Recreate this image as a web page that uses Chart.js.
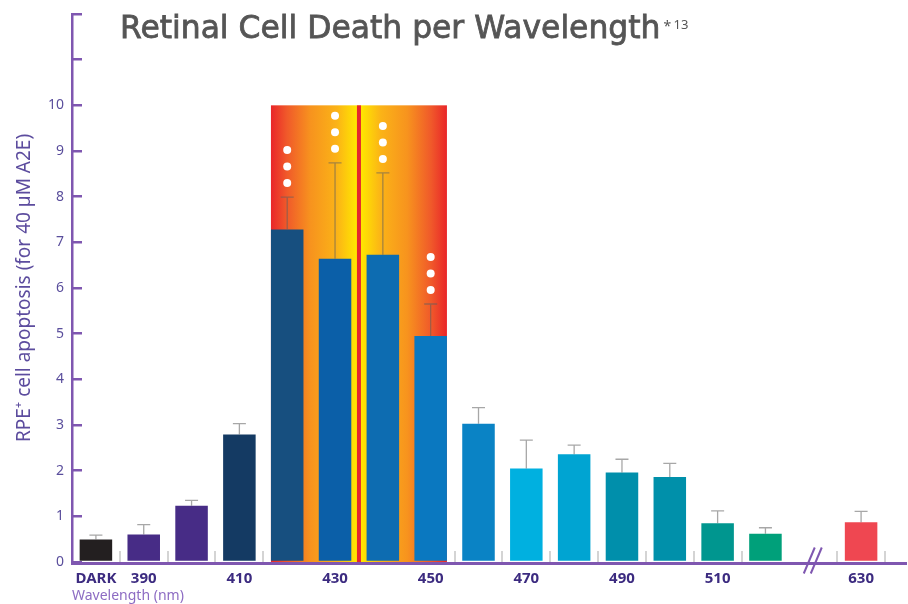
<!DOCTYPE html>
<html>
<head>
<meta charset="utf-8">
<script src="https://cdn.jsdelivr.net/npm/chart.js@4.4.0/dist/chart.umd.min.js"></script>
<style>
  html, body { margin: 0; padding: 0; background: #fff; }
</style>
</head>
<body>
<canvas id="apoptose" width="908" height="604"></canvas>
<script>
// dados
var categorias = ['DARK', '390', '400', '410', '420', '430', '440', '450', '460', '470', '480', '490', '500', '510', '520', '', '630'];
var valores    = [0.49, 0.6, 1.23, 2.79, 7.28, 6.64, 6.73, 4.95, 3.03, 2.05, 2.36, 1.96, 1.86, 0.85, 0.62, null, 0.87];
var erros      = [0.1, 0.22, 0.12, 0.24, 0.71, 2.1, 1.79, 0.7, 0.35, 0.62, 0.2, 0.29, 0.3, 0.27, 0.13, null, 0.24];
var pontosSignif = [0, 0, 0, 0, 3, 3, 3, 3, 0, 0, 0, 0, 0, 0, 0, 0, 0];
var rotulosX   = ['DARK', '390', '410', '430', '450', '470', '490', '510', '630'];
var rotulosY   = [0, 1, 2, 3, 4, 5, 6, 7, 8, 9, 10];
var faixaAzul  = ['420', '450'];   // faixa de luz azul-violeta destacada
var faixaTopo  = 10;
var quebraEixo = '';               // categoria vazia = quebra do eixo

var cores = ['#231f20', '#472c86', '#472c86', '#143a63', '#174f7f', '#0b5fa8', '#0d6cb1', '#0a78c0',
             '#0a83c5', '#00b0e0', '#00a4d2', '#008fab', '#0090aa', '#00968f', '#00a07a', '#ffffff', '#ef4751'];

var titulo = 'Retinal Cell Death per Wavelength';
var roxo = '#7f57b0';

var pluginFundo = {
    id: 'fundoFaixa',
    beforeDatasetsDraw: function (chart) {
        var ctx = chart.ctx;
        var xs = chart.scales.x, ys = chart.scales.y;
        var meta = chart.getDatasetMeta(0);
        var i0 = categorias.indexOf(faixaAzul[0]);
        var i1 = categorias.indexOf(faixaAzul[1]);
        var x0 = meta.data[i0].x - meta.data[i0].width / 2;
        var x1 = meta.data[i1].x + meta.data[i1].width / 2;
        var yt = ys.getPixelForValue(faixaTopo);
        var yb = ys.getPixelForValue(0);
        // linha central entre 430 e 440
        var xm = (xs.getPixelForValue(5) + xs.getPixelForValue(6)) / 2;
        var m = (xm - x0) / (x1 - x0);

        var g = ctx.createLinearGradient(x0, 0, x1, 0);
        g.addColorStop(0, '#e92629');
        g.addColorStop(m * 0.18, '#f0592a');
        g.addColorStop(m * 0.45, '#f7931e');
        g.addColorStop(m * 0.75, '#fbb317');
        g.addColorStop(m * 0.97, '#ffe600');
        g.addColorStop(m + (1 - m) * 0.03, '#ffe600');
        g.addColorStop(m + (1 - m) * 0.25, '#fbb317');
        g.addColorStop(m + (1 - m) * 0.55, '#f7931e');
        g.addColorStop(m + (1 - m) * 0.82, '#f0592a');
        g.addColorStop(1, '#e92629');

        ctx.save();
        ctx.fillStyle = g;
        ctx.fillRect(x0, yt, x1 - x0, yb - yt);
        ctx.fillStyle = '#e5262e';
        ctx.fillRect(xm - 2, yt, 4, yb - yt);
        ctx.restore();
    }
};

var pluginErros = {
    id: 'barrasErro',
    afterDatasetsDraw: function (chart) {
        var ctx = chart.ctx;
        var ys = chart.scales.y;
        var meta = chart.getDatasetMeta(0);
        ctx.save();
        meta.data.forEach(function (bar, i) {
            if (valores[i] === null) return;
            var yTopo = ys.getPixelForValue(valores[i] + erros[i]);
            ctx.strokeStyle = 'rgba(95,95,95,0.55)';
            ctx.lineWidth = 1.3;
            ctx.beginPath();
            ctx.moveTo(bar.x, bar.y);
            ctx.lineTo(bar.x, yTopo);
            ctx.moveTo(bar.x - 6.5, yTopo);
            ctx.lineTo(bar.x + 6.5, yTopo);
            ctx.stroke();

            ctx.fillStyle = '#ffffff';
            for (var k = 0; k < pontosSignif[i]; k++) {
                ctx.beginPath();
                ctx.arc(bar.x, yTopo - 14 - k * 16.5, 4, 0, Math.PI * 2);
                ctx.fill();
            }
        });
        ctx.restore();
    }
};

var pluginEixo = {
    id: 'eixoBase',
    afterDraw: function (chart) {
        var ctx = chart.ctx;
        var xs = chart.scales.x, ys = chart.scales.y;
        var y0 = ys.getPixelForValue(0) + 1.5;
        ctx.save();
        // linha de base
        ctx.strokeStyle = roxo;
        ctx.lineWidth = 3;
        ctx.beginPath();
        ctx.moveTo(chart.chartArea.left - 1, y0);
        ctx.lineTo(chart.width - 1, y0);
        ctx.stroke();

        // quebra do eixo //
        var xq = xs.getPixelForValue(categorias.indexOf(quebraEixo));
        ctx.lineWidth = 2;
        [-3.5, 3.5].forEach(function (d) {
            ctx.beginPath();
            ctx.moveTo(xq + d - 6, y0 + 10);
            ctx.lineTo(xq + d + 5, y0 - 16);
            ctx.stroke();
        });

        // titulo (ajustado a largura do original)
        ctx.fillStyle = '#555555';
        ctx.strokeStyle = '#555555';
        ctx.lineWidth = 0.8;
        ctx.textBaseline = 'alphabetic';
        ctx.textAlign = 'left';
        ctx.font = '30px "DejaVu Sans"';
        var tam = 30 * 540 / ctx.measureText(titulo).width;
        ctx.font = tam.toFixed(1) + 'px "DejaVu Sans"';
        ctx.fillText(titulo, 120, 38);
        ctx.strokeText(titulo, 120, 38);
        var w = ctx.measureText(titulo).width;
        ctx.font = '14px "Noto Sans"';
        ctx.fillText('*', 120 + w + 3, 31);
        ctx.font = '13px "Noto Sans"';
        ctx.fillText('13', 120 + w + 13, 29);
        ctx.restore();
    }
};

var ctxApoptose = document.getElementById('apoptose').getContext('2d');

var dadosApoptose = {
    labels: categorias,
    datasets: [{
        label: 'RPE+ cell apoptosis',
        data: valores,
        backgroundColor: cores,
        borderWidth: 0,
        categoryPercentage: 1,
        barPercentage: 0.68
    }]
};

var opcoesApoptose = {
    responsive: false,
    animation: false,
    layout: {
        padding: { top: 14, right: 23, left: 0, bottom: 0 }
    },
    plugins: {
        legend: { display: false },
        tooltip: { enabled: false }
    },
    scales: {
        x: {
            z: 1,
            offset: true,
            border: { display: false },
            grid: {
                drawOnChartArea: false,
                tickLength: -11,
                lineWidth: 2,
                color: function (c) {
                    var l = categorias[c.index];
                    return (c.index === 0 || l === '') ? 'rgba(0,0,0,0)' : '#d4d4d4';
                }
            },
            ticks: {
                autoSkip: false,
                maxRotation: 0,
                padding: 19,
                color: '#3c2b80',
                font: { family: 'Noto Sans', size: 15, weight: 'bold' },
                callback: function (v) {
                    var l = this.getLabelForValue(v);
                    return rotulosX.indexOf(l) >= 0 ? l : '';
                }
            },
            title: {
                display: true,
                text: 'Wavelength (nm)',
                align: 'start',
                color: '#8d6cc3',
                font: { family: 'Noto Sans', size: 14 },
                padding: 0
            },
            afterFit: function (s) { s.height = 42; }
        },
        y: {
            min: 0,
            max: 12,
            border: { color: roxo, width: 2.5 },
            grid: {
                drawOnChartArea: false,
                tickLength: -10,
                color: roxo,
                lineWidth: 2.5
            },
            ticks: {
                stepSize: 1,
                padding: 18,
                color: '#5a4e9c',
                font: { family: 'Noto Sans', size: 14 },
                callback: function (v) { return rotulosY.indexOf(v) >= 0 ? v : ''; }
            },
            title: {
                display: true,
                text: 'RPE⁺ cell apoptosis (for 40 µM A2E)',
                color: '#5c4c9e',
                font: { family: 'Noto Sans', size: 19 },
                padding: { top: 13, bottom: 0 }
            },
            afterFit: function (s) {
                s.width = 72;
                s.paddingTop = 0;
                s.paddingBottom = 0;
            }
        }
    }
};

var Apoptose = new Chart(ctxApoptose, {
    type: 'bar',
    data: dadosApoptose,
    options: opcoesApoptose,
    plugins: [pluginFundo, pluginErros, pluginEixo]
});
</script>
</body>
</html>
